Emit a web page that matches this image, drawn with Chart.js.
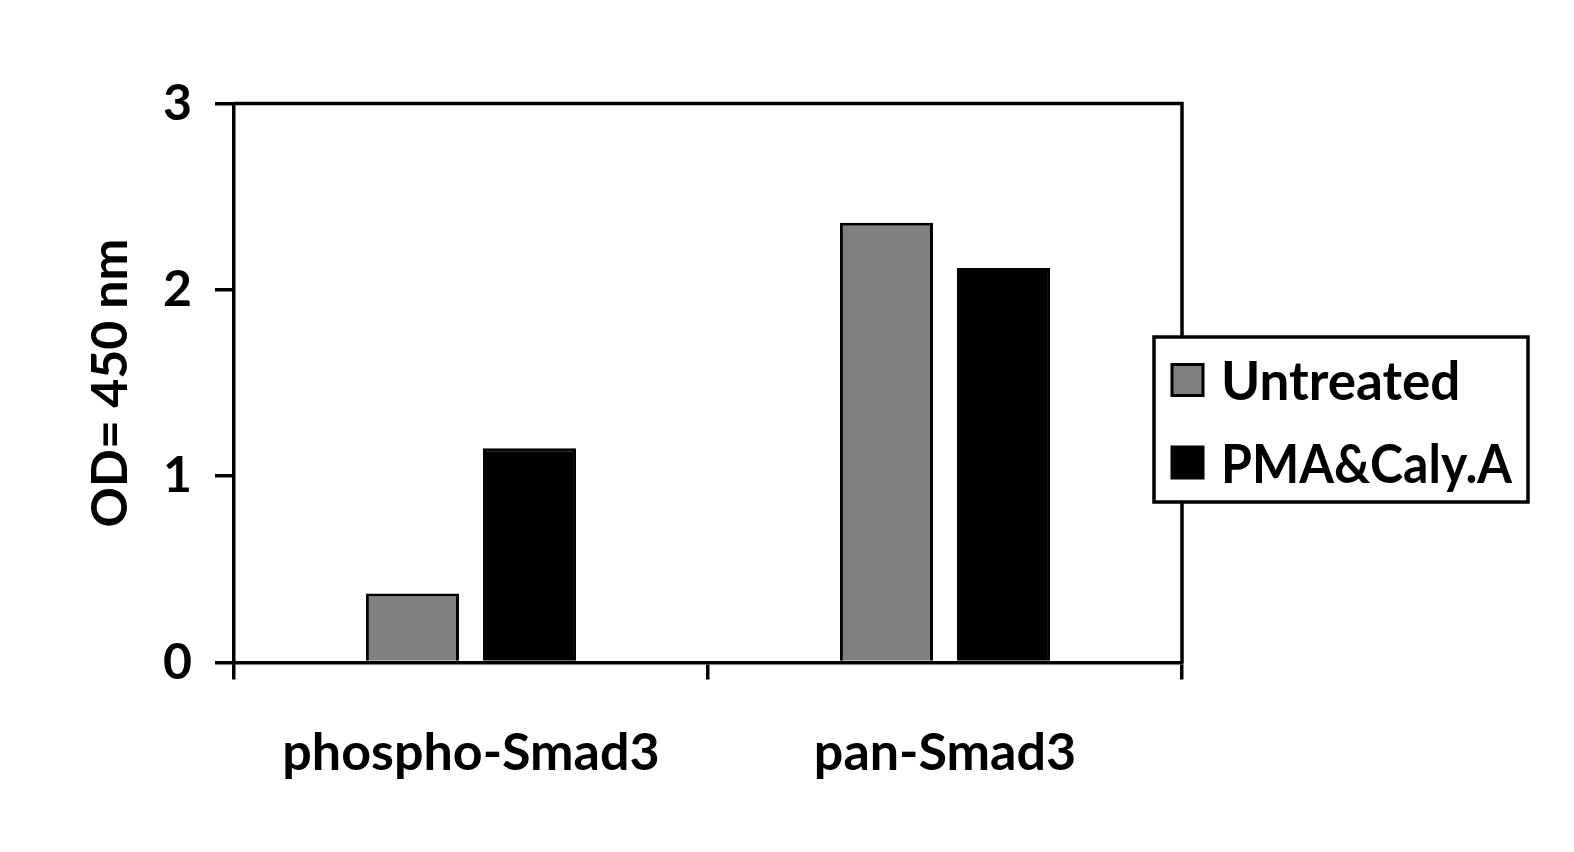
<!DOCTYPE html>
<html>
<head>
<meta charset="utf-8">
<script src="https://cdn.jsdelivr.net/npm/chart.js@4/dist/chart.umd.min.js"></script>
<style>
  html, body { margin: 0; padding: 0; background: #fff; overflow: hidden; }
  canvas { display: block; }
</style>
</head>
<body>
<canvas id="od" width="1574" height="852" style="width:100vw;height:100vh"></canvas>
<script>
const categories = ['phospho-Smad3', 'pan-Smad3'];
const untreated = [0.37, 2.36];
const pmaCaly = [1.15, 2.117];
const seriesNames = ['Untreated', 'PMA&Caly.A'];
const seriesColors = ['#808080', '#000000'];
const yTicks = [0, 1, 2, 3];

const FONT = 'Lato, Carlito, Calibri, sans-serif';
const LW = 3.5;

// box around plot (top + right) like the excel frame
const frame = {
    id: 'frame',
    afterDraw(chart) {
        const ctx = chart.ctx;
        const a = chart.chartArea;
        ctx.save();
        ctx.strokeStyle = '#000';
        ctx.lineWidth = LW;
        ctx.beginPath();
        ctx.moveTo(a.left, a.top);
        ctx.lineTo(a.right, a.top);
        ctx.lineTo(a.right, a.bottom);
        ctx.stroke();
        ctx.restore();
    }
};

// legend drawn as its own box, partly over the plot frame
const boxLegend = {
    id: 'boxLegend',
    afterDraw(chart) {
        const ctx = chart.ctx;
        const x = 1154, y = 337, w = 374, h = 165;
        ctx.save();
        ctx.fillStyle = '#fff';
        ctx.fillRect(x, y, w, h);
        ctx.strokeStyle = '#000';
        ctx.lineWidth = LW;
        ctx.strokeRect(x, y, w, h);
        ctx.font = 'bold 53px ' + FONT;
        ctx.textBaseline = 'middle';
        chart.data.datasets.forEach((ds, i) => {
            const cy = 380 + i * 82.5;
            ctx.fillStyle = ds.backgroundColor;
            ctx.fillRect(1172, cy - 15.5, 31, 31);
            ctx.lineWidth = 3;
            ctx.strokeRect(1172, cy - 15.5, 31, 31);
            ctx.fillStyle = '#000';
            ctx.fillText(ds.label, 1221, cy + 3, 291);
        });
        ctx.restore();
    }
};

new Chart(document.getElementById('od'), {
    type: 'bar',
    data: {
        labels: categories,
        datasets: [{
            label: seriesNames[0],
            data: untreated,
            backgroundColor: seriesColors[0],
            borderColor: '#000',
            borderWidth: 3,
            categoryPercentage: 0.494,
            barPercentage: 0.795
        }, {
            label: seriesNames[1],
            data: pmaCaly,
            backgroundColor: seriesColors[1],
            borderColor: '#000',
            borderWidth: 3,
            categoryPercentage: 0.494,
            barPercentage: 0.795
        }]
    },
    options: {
        responsive: false,
        animation: false,
        devicePixelRatio: 1,
        layout: {
            padding: { top: 103.5, right: 392, left: 0, bottom: 0 }
        },
        plugins: {
            legend: { display: false },
            tooltip: { enabled: false }
        },
        scales: {
            x: {
                grid: {
                    offset: true,
                    drawOnChartArea: false,
                    drawTicks: true,
                    tickLength: 17,
                    color: '#000',
                    lineWidth: LW
                },
                border: { color: '#000', width: LW },
                ticks: {
                    color: '#000',
                    padding: 43,
                    font: { family: FONT, size: 52, weight: 'bold' }
                },
                afterFit(scale) { scale.height = 189.5; }
            },
            y: {
                min: 0,
                max: 3,
                afterBuildTicks(scale) {
                    scale.ticks = yTicks.map(v => ({ value: v }));
                },
                grid: {
                    drawOnChartArea: false,
                    drawTicks: true,
                    tickLength: 19,
                    color: '#000',
                    lineWidth: LW
                },
                border: { color: '#000', width: LW },
                ticks: {
                    color: '#000',
                    padding: 23,
                    font: { family: FONT, size: 50, weight: 'bold' }
                },
                title: {
                    display: true,
                    text: 'OD= 450 nm',
                    color: '#000',
                    padding: { top: 81, bottom: 0 },
                    font: { family: FONT, size: 50, weight: 'bold' }
                },
                afterFit(scale) { scale.width = 234; }
            }
        }
    },
    plugins: [frame, boxLegend]
});
</script>
</body>
</html>
